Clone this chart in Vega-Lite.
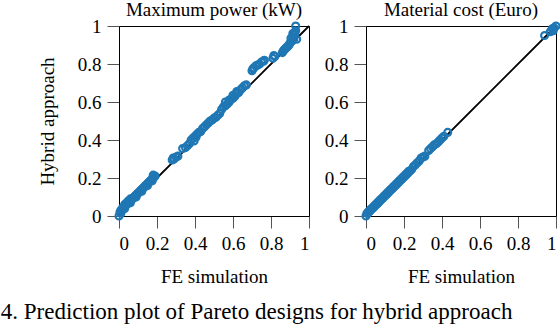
{
  "$schema": "https://vega.github.io/schema/vega-lite/v6.json",
  "background": "white",
  "padding": {"left": 0, "top": 0, "right": 0, "bottom": 0},
  "config": {
    "font": "Liberation Serif",
    "view": {"stroke": "black", "strokeWidth": 1},
    "axis": {
      "labelFont": "Liberation Serif", "labelFontSize": 19, "labelColor": "black", "labelOverlap": false,
      "titleFont": "Liberation Serif", "titleFontSize": 19, "titleFontWeight": "normal", "titleColor": "black",
      "tickColor": "#555", "tickSize": 12, "tickWidth": 1, "domainColor": "black", "grid": false, "labelPadding": 6
    },
    "title": {"font": "Liberation Serif", "fontWeight": "normal", "color": "black"}
  },
  "title": {"text": "4.  Prediction plot of Pareto designs for hybrid approach", "orient": "bottom", "anchor": "start", "fontSize": 23, "dx": -37, "offset": 14},
  "spacing": 9,
  "datasets": {
    "diag": [{"x": 0, "y": 0}, {"x": 1, "y": 1}],
    "power": [
      {"x":0,"y":0},{"x":0.005,"y":0.02},{"x":0.01,"y":0.015},{"x":0.01,"y":0.03},{"x":0.015,"y":0.03},{"x":0.02,"y":0.035},{"x":0.02,"y":0.045},{"x":0.025,"y":0.04},{"x":0.03,"y":0.05},{"x":0.03,"y":0.06},{"x":0.035,"y":0.055},{"x":0.04,"y":0.06},{"x":0.04,"y":0.07},{"x":0.045,"y":0.065},{"x":0.05,"y":0.07},{"x":0.05,"y":0.08},{"x":0.055,"y":0.075},{"x":0.06,"y":0.08},{"x":0.06,"y":0.09},{"x":0.065,"y":0.085},{"x":0.07,"y":0.09},{"x":0.075,"y":0.095},{"x":0.08,"y":0.1},{"x":0.085,"y":0.105},{"x":0.09,"y":0.11},{"x":0.095,"y":0.115},{"x":0.1,"y":0.12},{"x":0.105,"y":0.125},{"x":0.11,"y":0.13},{"x":0.115,"y":0.135},{"x":0.12,"y":0.14},{"x":0.125,"y":0.145},{"x":0.13,"y":0.15},{"x":0.135,"y":0.155},{"x":0.14,"y":0.16},{"x":0.145,"y":0.165},{"x":0.15,"y":0.17},{"x":0.155,"y":0.175},{"x":0.16,"y":0.18},{"x":0.165,"y":0.185},{"x":0.17,"y":0.19},{"x":0.175,"y":0.195},{"x":0.18,"y":0.2},{"x":0.185,"y":0.205},{"x":0.19,"y":0.21},{"x":0.18,"y":0.215},{"x":0.175,"y":0.185},{"x":0.15,"y":0.16},{"x":0.12,"y":0.13},{"x":0.09,"y":0.1},{"x":0.06,"y":0.07},{"x":0.03,"y":0.04},
      {"x":0.28,"y":0.295},{"x":0.285,"y":0.305},{"x":0.29,"y":0.3},{"x":0.3,"y":0.31},{"x":0.31,"y":0.315},
      {"x":0.335,"y":0.355},{"x":0.35,"y":0.36},{"x":0.36,"y":0.37},{"x":0.37,"y":0.38},
      {"x":0.38,"y":0.4},{"x":0.39,"y":0.41},{"x":0.395,"y":0.395},{"x":0.4,"y":0.42},{"x":0.405,"y":0.415},{"x":0.41,"y":0.43},{"x":0.42,"y":0.44},{"x":0.43,"y":0.445},
      {"x":0.44,"y":0.46},{"x":0.45,"y":0.47},{"x":0.46,"y":0.48},{"x":0.47,"y":0.49},{"x":0.48,"y":0.5},{"x":0.49,"y":0.505},{"x":0.5,"y":0.515},{"x":0.51,"y":0.52},{"x":0.52,"y":0.53},{"x":0.53,"y":0.54},
      {"x":0.54,"y":0.56},{"x":0.55,"y":0.575},{"x":0.56,"y":0.58},{"x":0.56,"y":0.6},{"x":0.57,"y":0.59},{"x":0.58,"y":0.6},{"x":0.58,"y":0.61},{"x":0.59,"y":0.615},{"x":0.6,"y":0.62},{"x":0.6,"y":0.635},{"x":0.61,"y":0.63},{"x":0.62,"y":0.645},{"x":0.62,"y":0.655},{"x":0.63,"y":0.65},{"x":0.64,"y":0.665},{"x":0.65,"y":0.675},{"x":0.66,"y":0.685},{"x":0.67,"y":0.69},
      {"x":0.7,"y":0.765},{"x":0.705,"y":0.775},{"x":0.71,"y":0.78},{"x":0.72,"y":0.79},{"x":0.73,"y":0.795},{"x":0.74,"y":0.8},{"x":0.75,"y":0.81},{"x":0.76,"y":0.815},{"x":0.765,"y":0.82},
      {"x":0.81,"y":0.83},{"x":0.815,"y":0.845},{"x":0.82,"y":0.84},
      {"x":0.86,"y":0.86},{"x":0.865,"y":0.87},{"x":0.87,"y":0.875},{"x":0.875,"y":0.88},{"x":0.88,"y":0.885},{"x":0.885,"y":0.89},{"x":0.89,"y":0.895},{"x":0.895,"y":0.9},
      {"x":0.9,"y":0.91},{"x":0.905,"y":0.935},{"x":0.91,"y":0.92},{"x":0.915,"y":0.945},{"x":0.915,"y":0.96},{"x":0.92,"y":0.93},{"x":0.92,"y":0.955},{"x":0.925,"y":0.965},{"x":0.93,"y":0.975},{"x":0.935,"y":0.93},{"x":0.93,"y":1.0}
    ],
    "cost": [
      {"x":0,"y":0},{"x":0.005,"y":0.015},{"x":0.01,"y":0.015},{"x":0.015,"y":0.025},{"x":0.02,"y":0.025},{"x":0.025,"y":0.035},{"x":0.03,"y":0.035},{"x":0.035,"y":0.045},{"x":0.04,"y":0.045},{"x":0.045,"y":0.055},{"x":0.05,"y":0.055},{"x":0.055,"y":0.065},{"x":0.06,"y":0.065},{"x":0.065,"y":0.075},{"x":0.07,"y":0.075},{"x":0.075,"y":0.085},{"x":0.08,"y":0.085},{"x":0.085,"y":0.095},{"x":0.09,"y":0.095},{"x":0.095,"y":0.105},{"x":0.1,"y":0.105},{"x":0.105,"y":0.115},{"x":0.11,"y":0.115},{"x":0.115,"y":0.125},{"x":0.12,"y":0.125},{"x":0.125,"y":0.135},{"x":0.13,"y":0.135},{"x":0.135,"y":0.145},{"x":0.14,"y":0.145},{"x":0.145,"y":0.155},{"x":0.15,"y":0.155},{"x":0.155,"y":0.165},{"x":0.16,"y":0.165},{"x":0.165,"y":0.175},{"x":0.17,"y":0.175},{"x":0.175,"y":0.185},{"x":0.18,"y":0.185},{"x":0.185,"y":0.195},{"x":0.19,"y":0.195},{"x":0.195,"y":0.205},{"x":0.2,"y":0.205},{"x":0.205,"y":0.215},{"x":0.21,"y":0.215},{"x":0.215,"y":0.225},{"x":0.22,"y":0.225},{"x":0.225,"y":0.235},{"x":0.23,"y":0.235},{"x":0.24,"y":0.245},
      {"x":0.25,"y":0.26},{"x":0.26,"y":0.27},{"x":0.27,"y":0.28},{"x":0.28,"y":0.29},{"x":0.29,"y":0.305},{"x":0.3,"y":0.31},{"x":0.31,"y":0.315},
      {"x":0.33,"y":0.345},{"x":0.34,"y":0.355},{"x":0.35,"y":0.365},{"x":0.36,"y":0.375},{"x":0.37,"y":0.38},{"x":0.38,"y":0.39},{"x":0.39,"y":0.4},{"x":0.4,"y":0.41},{"x":0.41,"y":0.42},{"x":0.43,"y":0.44},
      {"x":0.94,"y":0.95},{"x":0.97,"y":0.97},{"x":0.98,"y":0.985},{"x":0.985,"y":0.975},{"x":0.99,"y":0.99},{"x":1.0,"y":1.0}
    ]
  },
  "hconcat": [
    {
      "width": 190, "height": 190,
      "title": {"text": "Maximum power (kW)", "fontSize": 19, "offset": -3},
      "encoding": {
        "x": {"field": "x", "type": "quantitative", "scale": {"domain": [0, 1], "nice": false}, "axis": {"values": [0, 0.2, 0.4, 0.6, 0.8, 1], "labelExpr": "datum.value == 0 ? '0' : datum.value == 1 ? '1' : format(datum.value, '.1f')", "labelOverlap": false, "title": "FE simulation", "titlePadding": 14}},
        "y": {"field": "y", "type": "quantitative", "scale": {"domain": [0, 1], "nice": false}, "axis": {"values": [0, 0.2, 0.4, 0.6, 0.8, 1], "labelExpr": "datum.value == 0 ? '0' : datum.value == 1 ? '1' : format(datum.value, '.1f')", "labelOverlap": false, "title": "Hybrid approach", "titlePadding": 20}}
      },
      "layer": [
        {"data": {"name": "diag"}, "mark": {"type": "line", "color": "black", "strokeWidth": 1.8}},
        {"data": {"name": "power"}, "mark": {"type": "point", "filled": false, "color": "#1f77b4", "strokeWidth": 2.2, "size": 48, "opacity": 1, "clip": false}}
      ]
    },
    {
      "width": 190, "height": 190,
      "title": {"text": "Material cost (Euro)", "fontSize": 19, "offset": -3},
      "encoding": {
        "x": {"field": "x", "type": "quantitative", "scale": {"domain": [0, 1], "nice": false}, "axis": {"values": [0, 0.2, 0.4, 0.6, 0.8, 1], "labelExpr": "datum.value == 0 ? '0' : datum.value == 1 ? '1' : format(datum.value, '.1f')", "labelOverlap": false, "title": "FE simulation", "titlePadding": 14}},
        "y": {"field": "y", "type": "quantitative", "scale": {"domain": [0, 1], "nice": false}, "axis": {"values": [0, 0.2, 0.4, 0.6, 0.8, 1], "labelExpr": "datum.value == 0 ? '0' : datum.value == 1 ? '1' : format(datum.value, '.1f')", "labelOverlap": false, "title": null}}
      },
      "layer": [
        {"data": {"name": "diag"}, "mark": {"type": "line", "color": "black", "strokeWidth": 1.8}},
        {"data": {"name": "cost"}, "mark": {"type": "point", "filled": false, "color": "#1f77b4", "strokeWidth": 2.2, "size": 48, "opacity": 1, "clip": false}}
      ]
    }
  ]
}
